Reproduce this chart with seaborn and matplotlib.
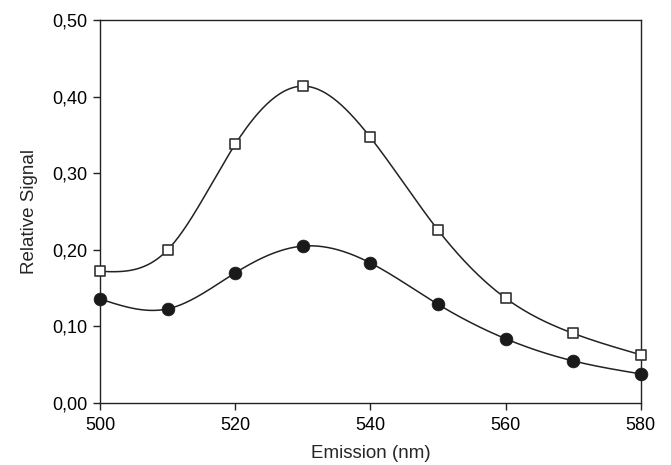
import numpy as np
import pandas as pd
import matplotlib
matplotlib.use("Agg")
import matplotlib.pyplot as plt
from matplotlib.ticker import FuncFormatter
import seaborn as sns

wavelength = [500, 510, 520, 530, 540, 550, 560, 570, 580]
squares = [0.172, 0.200, 0.338, 0.414, 0.347, 0.226, 0.137, 0.091, 0.063]
circles = [0.136, 0.123, 0.170, 0.205, 0.183, 0.129, 0.084, 0.055, 0.038]
y_ticks = [0.0, 0.1, 0.2, 0.3, 0.4, 0.5]
x_ticks = [500, 520, 540, 560, 580]


def natural_spline(x, y, n=400):
    x = np.asarray(x, float)
    y = np.asarray(y, float)
    k = len(x)
    h = np.diff(x)
    A = np.zeros((k, k))
    b = np.zeros(k)
    A[0, 0] = 1
    A[-1, -1] = 1
    for i in range(1, k - 1):
        A[i, i - 1] = h[i - 1]
        A[i, i] = 2 * (h[i - 1] + h[i])
        A[i, i + 1] = h[i]
        b[i] = 3 * ((y[i + 1] - y[i]) / h[i] - (y[i] - y[i - 1]) / h[i - 1])
    c = np.linalg.solve(A, b)
    xs = np.linspace(x[0], x[-1], n)
    idx = np.clip(np.searchsorted(x, xs) - 1, 0, k - 2)
    dx = xs - x[idx]
    hi = h[idx]
    bb = (y[idx + 1] - y[idx]) / hi - hi * (2 * c[idx] + c[idx + 1]) / 3
    dd = (c[idx + 1] - c[idx]) / (3 * hi)
    ys = y[idx] + bb * dx + c[idx] * dx ** 2 + dd * dx ** 3
    return xs, ys


sns.set_style("ticks")
plt.rcParams['font.family'] = ['Liberation Sans', 'DejaVu Sans']

fig = plt.figure(figsize=(6.71, 4.65), dpi=100)
ax = fig.add_axes([0.149, 0.1333, 0.806, 0.823])

for vals in (squares, circles):
    xs, ys = natural_spline(wavelength, vals)
    sns.lineplot(x=xs, y=ys, ax=ax, color='#222222', linewidth=1.1, zorder=2)

sns.scatterplot(x=wavelength, y=squares, ax=ax, marker='s', s=62,
                facecolor='white', edgecolor='#333333', linewidth=1.2,
                zorder=3, clip_on=False)
sns.scatterplot(x=wavelength, y=circles, ax=ax, marker='o', s=85,
                color='#1a1a1a', edgecolor='#1a1a1a', linewidth=0.5,
                zorder=3, clip_on=False)

ax.set_xlim(500, 580)
ax.set_ylim(0, 0.5)
ax.set_xticks(x_ticks)
ax.set_yticks(y_ticks)
ax.yaxis.set_major_formatter(FuncFormatter(lambda v, p: f"{v:.2f}".replace('.', ',')))
for s in ax.spines.values():
    s.set_visible(True)
    s.set_color('#222222')
    s.set_linewidth(1.0)
ax.tick_params(axis='both', direction='out', length=5, width=1.0,
               labelsize=13, colors='#222222', labelcolor='black', pad=4)
ax.tick_params(axis='x', pad=5)
ax.set_xlabel('Emission (nm)', fontsize=13.5, labelpad=8)
ax.set_ylabel('Relative Signal', fontsize=13.5, labelpad=10)

fig.savefig('out.png', dpi=100)
